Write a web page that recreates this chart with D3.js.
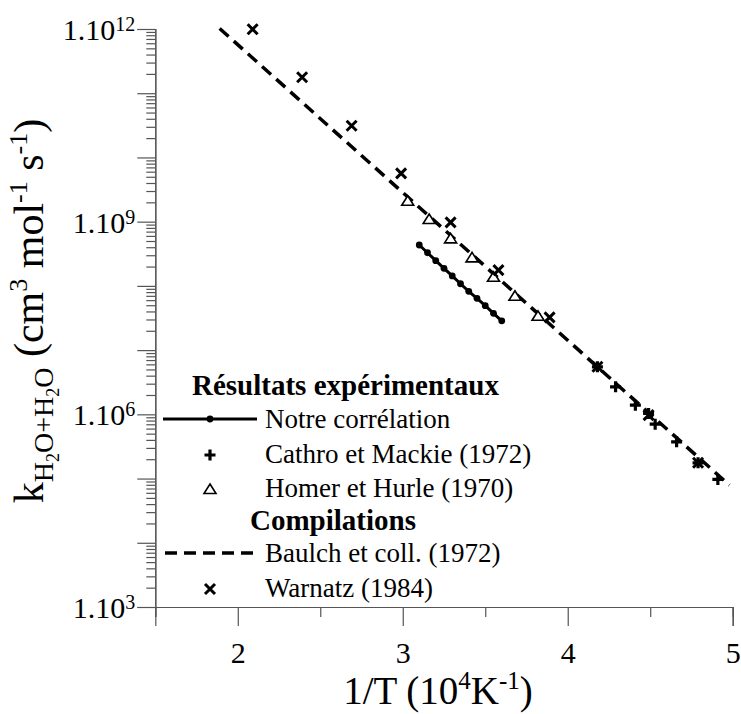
<!DOCTYPE html>
<html>
<head>
<meta charset="utf-8">
<script src="https://cdn.jsdelivr.net/npm/d3@7"></script>
<style>
  html, body { margin: 0; padding: 0; background: #fff; }
  svg { display: block; }
  svg text { font-family: "Liberation Serif", "Times New Roman", Times, "Nimbus Roman", "DejaVu Serif", serif; }
</style>
</head>
<body>
<svg id="chart" width="741" height="714"></svg>
<script>
// ---------------- data ----------------
// x: 1/T (10^4 K^-1), y: k (cm3 mol-1 s-1)
const notreX = [3.10, 3.15, 3.20, 3.25, 3.30, 3.35, 3.40, 3.45, 3.50, 3.55, 3.60];
const notreK = [4.33e8, 3.28e8, 2.47e8, 1.88e8, 1.43e8, 1.08e8, 8.24e7, 6.41e7, 4.92e7, 3.74e7, 2.86e7];

const cathroX = [4.18, 4.29, 4.41, 4.49, 4.53, 4.66, 4.79, 4.91];
const cathroK = [5.5e6, 2.68e6, 1.39e6, 1.03e6, 7.03e5, 3.73e5, 1.76e5, 9.7e4];

const homerX = [3.03, 3.16, 3.29, 3.42, 3.55, 3.68, 3.82];
const homerK = [2.12e9, 1.10e9, 5.50e8, 2.78e8, 1.39e8, 7.02e7, 3.42e7];

const baulchX = [1.89, 4.98];
const baulchK = [1.02e12, 7.9e4];

const warnatzX = [2.09, 2.39, 2.69, 2.99, 3.29, 3.58, 3.89, 4.18, 4.49, 4.79];
const warnatzK = [9.9e11, 1.77e11, 3.12e10, 5.65e9, 9.75e8, 1.76e8, 3.23e7, 5.5e6, 9.7e5, 1.76e5];

const xMajorTicks = [2, 3, 4, 5];
const xMinorTicks = [1.5, 2.5, 3.5, 4.5];
const yLabelExponents = [3, 6, 9, 12];
const yDecadeExponents = [3, 4, 5, 6, 7, 8, 9, 10, 11, 12];

const legendItems = ["Notre corrélation", "Cathro et Mackie (1972)", "Homer et Hurle (1970)", "Baulch et coll. (1972)", "Warnatz (1984)"];
const legendHeaders = ["Résultats expérimentaux", "Compilations"];

// ---------------- chart ----------------
const svg = d3.select("#chart");
const axisColor = "#555";

const x = d3.scaleLinear().domain([1.5, 5]).range([155.3, 732.7]);
const y = d3.scaleLog().domain([1e3, 1e12]).range([607, 29]);

// Y axis: decade ticks (long), minor ticks (short)
const decadeVals = yDecadeExponents.map(e => Math.pow(10, e));
const minorVals = [];
for (let e = 3; e < 12; e++) for (let m = 2; m <= 9; m++) minorVals.push(m * Math.pow(10, e));

const yMinor = svg.append("g").attr("transform", `translate(${x(1.5)},0)`)
  .call(d3.axisLeft(y).tickValues(minorVals).tickSize(9).tickFormat(""));
const yMajor = svg.append("g").attr("transform", `translate(${x(1.5)},0)`)
  .call(d3.axisLeft(y).tickValues(decadeVals).tickSize(18).tickPadding(2).tickFormat(""));

[yMinor, yMajor].forEach(g => {
  g.attr("font-family", null);
  g.selectAll("path.domain").attr("stroke", axisColor).attr("stroke-width", 1.2);
  g.selectAll(".tick line").attr("stroke", axisColor).attr("stroke-width", 1.2);
});

// y tick labels 1.10^n
yMajor.selectAll(".tick").each(function(d) {
  const e = Math.round(Math.log10(d));
  if (!yLabelExponents.includes(e)) return;
  const t = d3.select(this).append("text")
    .attr("x", -20).attr("dy", "0.35em")
    .attr("text-anchor", "end")
    .attr("fill", "#000")
    .style("font-size", "30px");
  t.append("tspan").text("1.10");
  t.append("tspan").attr("dy", -9).style("font-size", "20px").text(e);
});

// X axis
const xMinorAx = svg.append("g").attr("transform", `translate(0,${y(1e3)})`)
  .call(d3.axisBottom(x).tickValues(xMinorTicks).tickSize(10).tickFormat(""));
const xMajorAx = svg.append("g").attr("transform", `translate(0,${y(1e3)})`)
  .call(d3.axisBottom(x).tickValues(xMajorTicks).tickSize(19).tickFormat(d3.format("d")));
[xMinorAx, xMajorAx].forEach(g => {
  g.attr("font-family", null);
  g.selectAll("path.domain").attr("stroke", axisColor).attr("stroke-width", 1.2);
  g.selectAll(".tick line").attr("stroke", axisColor).attr("stroke-width", 1.2);
});
xMajorAx.selectAll(".tick text")
  .attr("y", 56).attr("dy", 0)
  .attr("fill", "#000")
  .style("font-size", "30px");

// Axis titles
const xt = svg.append("text")
  .attr("x", 438).attr("y", 704)
  .attr("text-anchor", "middle")
  .style("font-size", "39px");
xt.append("tspan").text("1/T (10");
xt.append("tspan").attr("dy", -15).style("font-size", "25px").text("4");
xt.append("tspan").attr("dy", 15).text("K");
xt.append("tspan").attr("dy", -15).style("font-size", "25px").text("-1");
xt.append("tspan").attr("dy", 15).text(")");

const yt = svg.append("text")
  .attr("transform", "translate(43,311) rotate(-90)")
  .attr("text-anchor", "middle")
  .style("font-size", "42px");
yt.append("tspan").text("k");
yt.append("tspan").attr("dy", 10).style("font-size", "28px").text("H");
yt.append("tspan").attr("dy", 6).style("font-size", "18px").text("2");
yt.append("tspan").attr("dy", -6).style("font-size", "28px").text("O+H");
yt.append("tspan").attr("dy", 6).style("font-size", "18px").text("2");
yt.append("tspan").attr("dy", -6).style("font-size", "28px").text("O");
yt.append("tspan").attr("dy", -10).text(" (cm");
yt.append("tspan").attr("dy", -16).style("font-size", "26px").text("3");
yt.append("tspan").attr("dy", 16).text(" mol");
yt.append("tspan").attr("dy", -16).style("font-size", "26px").text("-1");
yt.append("tspan").attr("dy", 16).text(" s");
yt.append("tspan").attr("dy", -16).style("font-size", "26px").text("-1");
yt.append("tspan").attr("dy", 16).text(")");

// ---------------- marks ----------------
const line = d3.line().x(d => x(d[0])).y(d => y(d[1]));
const dashArr = "12,7";

// Baulch dashed line
svg.append("path")
  .datum(d3.zip(baulchX, baulchK))
  .attr("d", line)
  .attr("fill", "none").attr("stroke", "#000")
  .attr("stroke-width", 3.5).attr("stroke-dasharray", dashArr);

// Notre corrélation
const notre = d3.zip(notreX, notreK);
svg.append("path").datum(notre).attr("d", line)
  .attr("fill", "none").attr("stroke", "#000").attr("stroke-width", 3);
svg.selectAll("circle.notre").data(notre).join("circle")
  .attr("class", "notre")
  .attr("cx", d => x(d[0])).attr("cy", d => y(d[1])).attr("r", 3.4).attr("fill", "#000");

// marker shapes
const crossPath = "M-5,-5L5,5M-5,5L5,-5";
const plusPath = "M-5.5,0H5.5M0,-5.5V5.5";
const triPath = "M0,-5L6,4.5H-6Z";

svg.selectAll("path.homer").data(d3.zip(homerX, homerK)).join("path")
  .attr("class", "homer")
  .attr("transform", d => `translate(${x(d[0])},${y(d[1])})`)
  .attr("d", triPath).attr("fill", "#fff").attr("stroke", "#000").attr("stroke-width", 1.6);

svg.selectAll("path.cathro").data(d3.zip(cathroX, cathroK)).join("path")
  .attr("class", "cathro")
  .attr("transform", d => `translate(${x(d[0])},${y(d[1])})`)
  .attr("d", plusPath).attr("fill", "none").attr("stroke", "#000").attr("stroke-width", 3.2);

svg.selectAll("path.warnatz").data(d3.zip(warnatzX, warnatzK)).join("path")
  .attr("class", "warnatz")
  .attr("transform", d => `translate(${x(d[0])},${y(d[1])})`)
  .attr("d", crossPath).attr("fill", "none").attr("stroke", "#000").attr("stroke-width", 3);

// ---------------- legend ----------------
const lg = svg.append("g");
const textX = 265, symX = 210;
lg.append("text").attr("x", 192).attr("y", 395).style("font-size", "29px").style("font-weight", "bold").text(legendHeaders[0]);
lg.append("text").attr("x", 250).attr("y", 530).style("font-size", "29px").style("font-weight", "bold").text(legendHeaders[1]);

// Notre
lg.append("line").attr("x1", 163).attr("x2", 257).attr("y1", 419).attr("y2", 419).attr("stroke", "#000").attr("stroke-width", 3);
lg.append("circle").attr("cx", symX).attr("cy", 419).attr("r", 3.4).attr("fill", "#000");
lg.append("text").attr("x", textX).attr("y", 428).style("font-size", "27px").text(legendItems[0]);
// Cathro
lg.append("path").attr("transform", `translate(${symX},455)`).attr("d", plusPath).attr("fill", "none").attr("stroke", "#000").attr("stroke-width", 3.2);
lg.append("text").attr("x", textX).attr("y", 463).style("font-size", "27px").text(legendItems[1]);
// Homer
lg.append("path").attr("transform", `translate(${symX},489)`).attr("d", triPath).attr("fill", "#fff").attr("stroke", "#000").attr("stroke-width", 1.6);
lg.append("text").attr("x", textX).attr("y", 497).style("font-size", "27px").text(legendItems[2]);
// Baulch
lg.append("line").attr("x1", 165).attr("x2", 256).attr("y1", 553).attr("y2", 553).attr("stroke", "#000").attr("stroke-width", 3.5).attr("stroke-dasharray", dashArr);
lg.append("text").attr("x", textX).attr("y", 562).style("font-size", "27px").text(legendItems[3]);
// Warnatz
lg.append("path").attr("transform", `translate(${symX},589)`).attr("d", crossPath).attr("fill", "none").attr("stroke", "#000").attr("stroke-width", 3);
lg.append("text").attr("x", textX).attr("y", 597).style("font-size", "27px").text(legendItems[4]);
</script>
</body>
</html>
